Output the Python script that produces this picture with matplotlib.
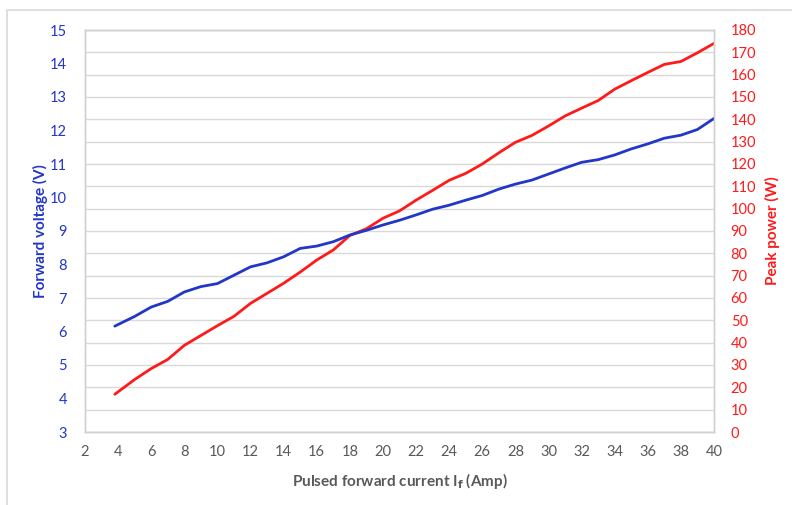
import matplotlib
matplotlib.use("Agg")
import matplotlib.pyplot as plt
from matplotlib.patches import Rectangle
from matplotlib.ticker import MultipleLocator

plt.rcParams['font.family'] = ['Lato', 'DejaVu Sans']

current = [3.8, 5, 6, 7, 8, 9, 10, 11, 12, 13, 14, 15, 16, 17, 18, 19, 20, 21, 22,
           23, 24, 25, 26, 27, 28, 29, 30, 31, 32, 33, 34, 35, 36, 37, 38, 39, 40]
voltage = [6.16, 6.45, 6.73, 6.90, 7.18, 7.34, 7.43, 7.68, 7.93, 8.05, 8.23, 8.48,
           8.55, 8.68, 8.88, 9.02, 9.18, 9.32, 9.48, 9.65, 9.77, 9.92, 10.06, 10.25,
           10.40, 10.52, 10.70, 10.88, 11.05, 11.13, 11.27, 11.45, 11.60, 11.77,
           11.86, 12.03, 12.36]
power = [16.9, 23.5, 28.4, 32.5, 38.8, 43.2, 47.6, 51.8, 57.6, 62.1, 66.6, 71.6,
         77.0, 81.5, 88.0, 91.0, 95.7, 99.0, 103.8, 108.2, 112.7, 115.8, 120.0,
         125.0, 129.7, 132.8, 137.0, 141.5, 145.0, 148.4, 153.5, 157.3, 161.0,
         164.6, 165.9, 169.8, 174.0]

BLUE = '#2236c8'
RED = '#ff1a1a'
GRAY = '#595959'

fig = plt.figure(figsize=(7.92, 5.05), dpi=100)
fig.patches.append(Rectangle((7/792, -0.1), 1.2, 1 - 10/505 + 0.1,
                             transform=fig.transFigure, fill=False,
                             edgecolor='#d9d9d9', linewidth=1.2))

ax1 = fig.add_axes([85/792, 1 - 432/505, (714 - 85)/792, (432 - 30)/505])
ax2 = ax1.twinx()
ax1.set_zorder(ax2.get_zorder() + 1)
ax1.patch.set_visible(False)

ax1.set_xlim(2, 40)
ax1.set_ylim(3, 15)
ax2.set_ylim(0, 180)

ax1.xaxis.set_major_locator(MultipleLocator(2))
ax2.xaxis.set_major_locator(MultipleLocator(2))
ax2.xaxis.set_minor_locator(MultipleLocator(0.5))
ax1.yaxis.set_major_locator(MultipleLocator(1))
ax2.yaxis.set_major_locator(MultipleLocator(10))

ax2.grid(True, which='major', axis='both', color='#d9d9d9', linewidth=1.0)
ax2.grid(True, which='minor', axis='x', color='#ececec', linewidth=0.9)
ax2.set_axisbelow(True)

ax2.plot(current, power, color=RED, linewidth=2.0, solid_capstyle='round',
         solid_joinstyle='round')
ax1.plot(current, voltage, color=BLUE, linewidth=2.0, solid_capstyle='round',
         solid_joinstyle='round')

for ax in (ax1, ax2):
    for s in ax.spines.values():
        s.set_color('#d0d0d0')
        s.set_linewidth(1.0)
    ax.tick_params(length=0, which='both')

ax1.tick_params(axis='y', colors=BLUE, labelsize=10.5, pad=13)
ax1.tick_params(axis='x', colors=GRAY, labelsize=10.5, pad=9)
ax2.tick_params(axis='y', colors=RED, labelsize=10.5, pad=12)
for lbl in ax1.get_xticklabels():
    lbl.set_color(GRAY)

ax1.set_ylabel('Forward voltage (V)', color=BLUE, fontsize=11, fontweight='bold', labelpad=1)
ax2.set_ylabel('Peak power (W)', color=RED, fontsize=11, fontweight='bold', labelpad=6)
ax1.set_xlabel(r'Pulsed forward current I$_\mathbf{f}$ (Amp)', color=GRAY,
               fontsize=11, fontweight='bold', labelpad=9)

fig.savefig('out.png', dpi=100)
